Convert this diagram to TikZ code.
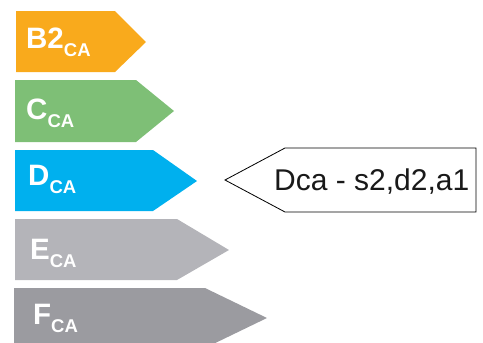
\documentclass[tikz,border=0pt]{standalone}
\usepackage{fontspec}
\setmainfont{Liberation Sans}
\definecolor{cB}{HTML}{F9AA1C}
\definecolor{cC}{HTML}{7EBF76}
\definecolor{cD}{HTML}{00B0EE}
\definecolor{cE}{HTML}{B4B4B9}
\definecolor{cF}{HTML}{9B9BA0}
\newcommand{\lab}[2]{\textbf{#1\raisebox{-8pt}{\fontsize{18.5}{18.5}\selectfont #2}}}
\tikzset{
  band/.style={draw=none},
  bandtext/.style={anchor=base west, inner sep=0pt, text=white, font=\fontsize{29.5}{30}\selectfont},
  infobox/.style={draw=black, line width=0.8pt, fill=white},
  infotext/.style={anchor=base west, inner sep=0pt, text=black!90, font=\fontsize{30}{30}\selectfont}
}
\begin{document}
\begin{tikzpicture}[x=1pt,y=-1pt]
\useasboundingbox (0,0) rectangle (483,343);
% bands
\fill[band, cB] (16,11) -- (115,11) -- (146,42) -- (115,72) -- (16,72) -- cycle;
\fill[band, cC] (15,80) -- (136,80) -- (174,111) -- (136,142) -- (15,142) -- cycle;
\fill[band, cD] (15,150) -- (153,150) -- (197,181) -- (153,211) -- (15,211) -- cycle;
\fill[band, cE] (15,219) -- (177,219) -- (229,250) -- (177,280) -- (15,280) -- cycle;
\fill[band, cF] (14,288) -- (205,288) -- (267,318) -- (205,348) -- (14,348) -- cycle;
\node[bandtext] (tB) at (26,48) {\lab{B2}{CA}};
\node[bandtext] (tC) at (26,119) {\lab{C}{CA}};
\node[bandtext] (tD) at (28,185) {\lab{D}{CA}};
\node[bandtext] (tE) at (30,259) {\lab{E}{CA}};
\node[bandtext] (tF) at (33,324) {\lab{F}{CA}};
% pointer
\draw[infobox] (225,180) -- (285,148) -- (476,148) -- (476,212) -- (285,212) -- cycle;
\node[infotext] (info) at (274,190) {Dca - s2,d2,a1};
\end{tikzpicture}
\end{document}
